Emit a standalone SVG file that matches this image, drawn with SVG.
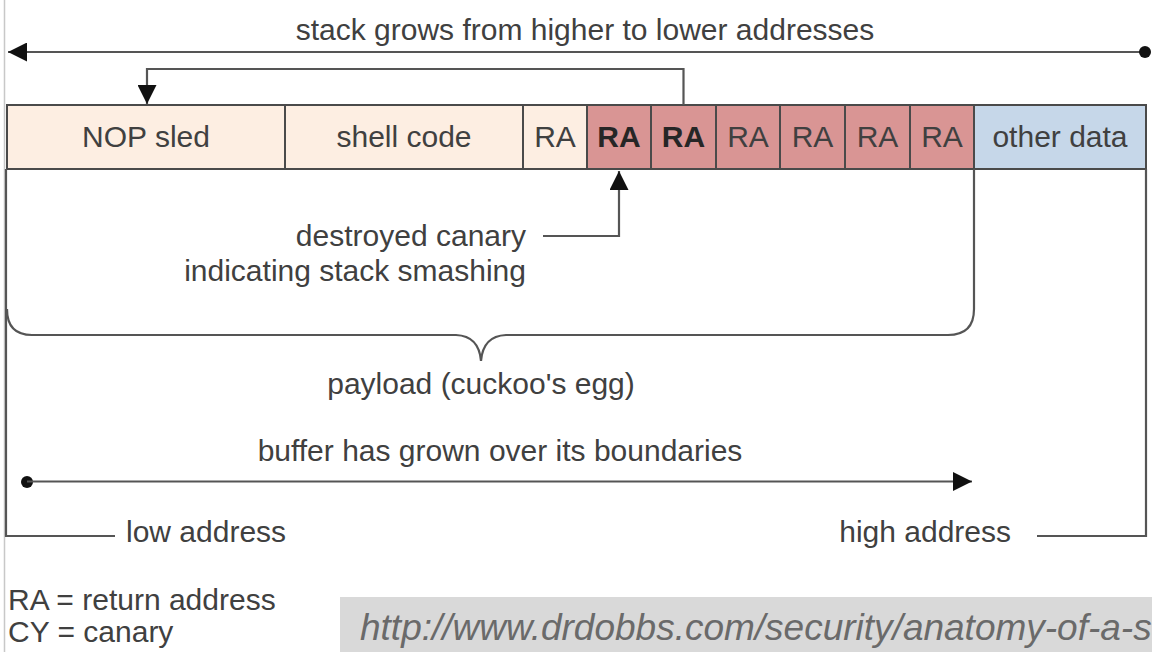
<svg xmlns="http://www.w3.org/2000/svg" width="1152" height="652" viewBox="0 0 1152 652">
  <style>
    .t { font-family: "Liberation Sans", Arial, sans-serif; font-size: 30px; fill: #404040; }
    .b { font-weight: bold; fill: #262626; }
    .box { stroke: #4a4a4a; stroke-width: 2; }
    .peach { fill: #fdeee2; }
    .red { fill: #d99594; }
    .blue { fill: #c6d7e9; }
    .ln { fill: none; stroke: #555; stroke-width: 2.2; }
    .url { font-family: "Liberation Sans", Arial, sans-serif; font-style: italic; font-size: 37px; fill: #6a6a6a; }
  </style>
  <defs>
    <marker id="ah" viewBox="0 0 10 10" refX="10" refY="5" markerWidth="19" markerHeight="19" markerUnits="userSpaceOnUse" orient="auto">
      <path d="M0,0 L10,5 L0,10 Z" fill="#111"/>
    </marker>
  </defs>
  <rect width="1152" height="652" fill="#ffffff"/>
  <line x1="4.5" y1="0" x2="4.5" y2="652" stroke="#c8c8c8" stroke-width="1.5"/>

  <g id="title">
    <text class="t" x="585" y="40" text-anchor="middle">stack grows from higher to lower addresses</text>
  </g>

  <g id="stack-row">
    <g id="nop-sled">
      <rect class="box peach" x="7" y="105" width="278" height="64"/>
      <text class="t" x="146" y="147" text-anchor="middle">NOP sled</text>
    </g>
    <g id="shell-code">
      <rect class="box peach" x="285" y="105" width="238" height="64"/>
      <text class="t" x="404" y="147" text-anchor="middle">shell code</text>
    </g>
    <g id="ra-1">
      <rect class="box peach" x="523" y="105" width="64" height="64"/>
      <text class="t" x="555" y="147" text-anchor="middle">RA</text>
    </g>
    <g id="ra-2">
      <rect class="box red" x="587" y="105" width="64" height="64"/>
      <text class="t b" x="619" y="147" text-anchor="middle">RA</text>
    </g>
    <g id="ra-3">
      <rect class="box red" x="651" y="105" width="65" height="64"/>
      <text class="t b" x="683.5" y="147" text-anchor="middle">RA</text>
    </g>
    <g id="ra-4">
      <rect class="box red" x="716" y="105" width="64" height="64"/>
      <text class="t" x="748" y="147" text-anchor="middle">RA</text>
    </g>
    <g id="ra-5">
      <rect class="box red" x="780" y="105" width="65" height="64"/>
      <text class="t" x="812.5" y="147" text-anchor="middle">RA</text>
    </g>
    <g id="ra-6">
      <rect class="box red" x="845" y="105" width="65" height="64"/>
      <text class="t" x="877.5" y="147" text-anchor="middle">RA</text>
    </g>
    <g id="ra-7">
      <rect class="box red" x="910" y="105" width="64" height="64"/>
      <text class="t" x="942" y="147" text-anchor="middle">RA</text>
    </g>
    <g id="other-data">
      <rect class="box blue" x="974" y="105" width="172" height="64"/>
      <text class="t" x="1060" y="147" text-anchor="middle">other data</text>
    </g>
  </g>

  <g id="connectors">
    <!-- stack grows arrow -->
    <line class="ln" x1="1145" y1="52" x2="8" y2="52" marker-end="url(#ah)" />
    <circle cx="1145" cy="52" r="6" fill="#111"/>
    <!-- return jump to NOP sled -->
    <path class="ln" d="M683.5,105 L683.5,69 L147,69 L147,104" marker-end="url(#ah)"/>
    <!-- destroyed canary pointer -->
    <path class="ln" d="M543,236 L619,236 L619,171" marker-end="url(#ah)"/>
    <!-- payload brace -->
    <path class="ln" d="M7,309 Q7,335 32,335 L456,335 Q479,336 481,361 Q483,336 506,335 L948,335 Q974,335 974,309 L974,169"/>
    <!-- low / high address lines -->
    <path class="ln" d="M6,169 L6,536 L115,536"/>
    <path class="ln" d="M1146,169 L1146,536 L1037,536"/>
    <!-- buffer growth arrow -->
    <circle cx="27" cy="482" r="6" fill="#111"/>
    <line class="ln" x1="27" y1="481.5" x2="972" y2="481.5" marker-end="url(#ah)"/>
  </g>

  <g id="labels">
    <text class="t" x="526" y="246" text-anchor="end">destroyed canary</text>
    <text class="t" x="526" y="281" text-anchor="end">indicating stack smashing</text>
    <text class="t" x="481" y="394" text-anchor="middle">payload (cuckoo's egg)</text>
    <text class="t" x="500" y="461" text-anchor="middle">buffer has grown over its boundaries</text>
    <text class="t" x="126" y="542">low address</text>
    <text class="t" x="1011" y="542" text-anchor="end">high address</text>
  </g>

  <g id="legend">
    <text class="t" x="8" y="610">RA = return address</text>
    <text class="t" x="8" y="642">CY = canary</text>
  </g>

  <g id="source">
    <rect x="340" y="597" width="812" height="55" fill="#d9d9d9"/>
    <text class="url" x="360" y="640">http://www.drdobbs.com/security/anatomy-of-a-s</text>
  </g>
</svg>
